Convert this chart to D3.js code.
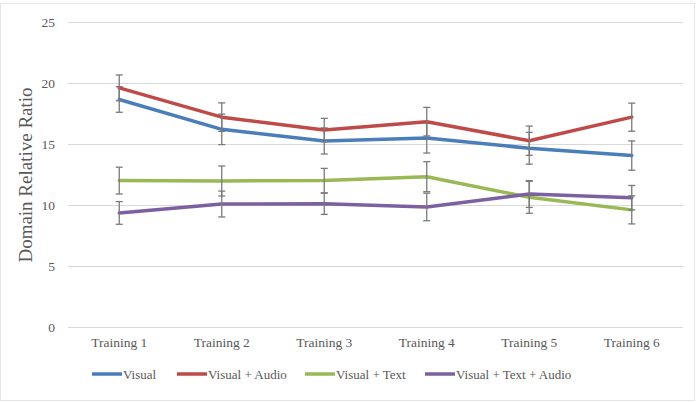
<!DOCTYPE html>
<html><head><meta charset="utf-8">
<script src="https://cdn.jsdelivr.net/npm/d3@7"></script>
<style>body{margin:0;background:#fff}svg{display:block}</style>
</head><body><svg id="c" width="698" height="402"></svg>
<script>
const categories = ["Training 1","Training 2","Training 3","Training 4","Training 5","Training 6"];
const seriesNames = ["Visual","Visual + Audio","Visual + Text","Visual + Text + Audio"];
const visual      = [18.65, 16.2, 15.25, 15.5, 14.65, 14.05];
const visualAudio = [19.6, 17.2, 16.15, 16.83, 15.27, 17.2];
const visualText  = [12.0, 11.97, 12.0, 12.32, 10.63, 9.6];
const visualTextAudio = [9.35, 10.08, 10.1, 9.84, 10.9, 10.6];
const errVisual      = [1.05, 1.25, 1.07, 1.24, 1.3, 1.2];
const errVisualAudio = [1.06, 1.17, 0.95, 1.17, 1.2, 1.15];
const errVisualText  = [1.1, 1.23, 1.0, 1.23, 1.31, 1.15];
const errVisualTextAudio = [0.93, 1.06, 0.87, 1.13, 1.1, 1.0];
const yTicks = [0,5,10,15,20,25];
const colors = ["#4a7ebb","#be4b48","#98b954","#7d60a0"];

const series = [
  {name: seriesNames[0], values: visual, err: errVisual, color: colors[0]},
  {name: seriesNames[1], values: visualAudio, err: errVisualAudio, color: colors[1]},
  {name: seriesNames[2], values: visualText, err: errVisualText, color: colors[2]},
  {name: seriesNames[3], values: visualTextAudio, err: errVisualTextAudio, color: colors[3]}
];

const svg = d3.select("#c");
const font = "'Liberation Serif', serif";
svg.append("rect").attr("x",0.5).attr("y",3.5).attr("width",694).attr("height",397)
  .attr("fill","#fff").attr("stroke","#e6e6e6");

const x = d3.scaleBand().domain(categories).range([68, 683]);
const y = d3.scaleLinear().domain([0,25]).range([327, 22]);

// gridlines
svg.append("g").selectAll("line").data(yTicks).join("line")
  .attr("x1",68).attr("x2",683).attr("y1",d=>y(d)+0.5).attr("y2",d=>y(d)+0.5)
  .attr("stroke","#d9d9d9").attr("stroke-width",1);

// y axis labels
const ya = svg.append("g").attr("transform","translate(60,0)")
  .call(d3.axisLeft(y).tickValues(yTicks).tickSize(0).tickPadding(5));
ya.select(".domain").remove();
ya.selectAll("text").attr("font-family",font).attr("font-size",13.5).attr("fill","#595959");

// x axis labels
const xa = svg.append("g").attr("transform","translate(0,337)")
  .call(d3.axisBottom(x).tickSize(0).tickPadding(0));
xa.select(".domain").remove();
xa.selectAll("text").attr("font-family",font).attr("font-size",13.5).attr("fill","#595959").attr("dy","0.71em");

// y title
svg.append("text").attr("transform","translate(32,175) rotate(-90)")
  .attr("text-anchor","middle").attr("font-family",font).attr("font-size",19)
  .attr("fill","#595959").text("Domain Relative Ratio");

const cx = c => x(c) + x.bandwidth()/2;
const line = d3.line().x(d=>cx(d.c)).y(d=>y(d.v));

series.forEach(s => {
  const pts = categories.map((c,i)=>({c, v:s.values[i], e:s.err[i]}));
  svg.append("path").datum(pts).attr("d", line).attr("fill","none")
    .attr("stroke", s.color).attr("stroke-width",3.5).attr("stroke-linejoin","round").attr("stroke-linecap","round");
  const g = svg.append("g").attr("stroke","#7a7a7a").attr("stroke-width",1.3);
  g.selectAll("line.v").data(pts).join("line").attr("class","v")
    .attr("x1",d=>cx(d.c)).attr("x2",d=>cx(d.c)).attr("y1",d=>y(d.v+d.e)).attr("y2",d=>y(d.v-d.e));
  g.selectAll("line.t").data(pts).join("line").attr("class","t")
    .attr("x1",d=>cx(d.c)-3.5).attr("x2",d=>cx(d.c)+3.5).attr("y1",d=>y(d.v+d.e)).attr("y2",d=>y(d.v+d.e));
  g.selectAll("line.b").data(pts).join("line").attr("class","b")
    .attr("x1",d=>cx(d.c)-3.5).attr("x2",d=>cx(d.c)+3.5).attr("y1",d=>y(d.v-d.e)).attr("y2",d=>y(d.v-d.e));
});

// legend
const legendX = [92, 177, 305, 425];
const lg = svg.append("g");
series.forEach((s,i) => {
  lg.append("line").attr("x1",legendX[i]).attr("x2",legendX[i]+30).attr("y1",374).attr("y2",374)
    .attr("stroke",s.color).attr("stroke-width",3.5);
  lg.append("text").attr("x",legendX[i]+31).attr("y",374).attr("dy","0.35em")
    .attr("font-family",font).attr("font-size",13).attr("fill","#595959").text(s.name);
});
</script></body></html>
